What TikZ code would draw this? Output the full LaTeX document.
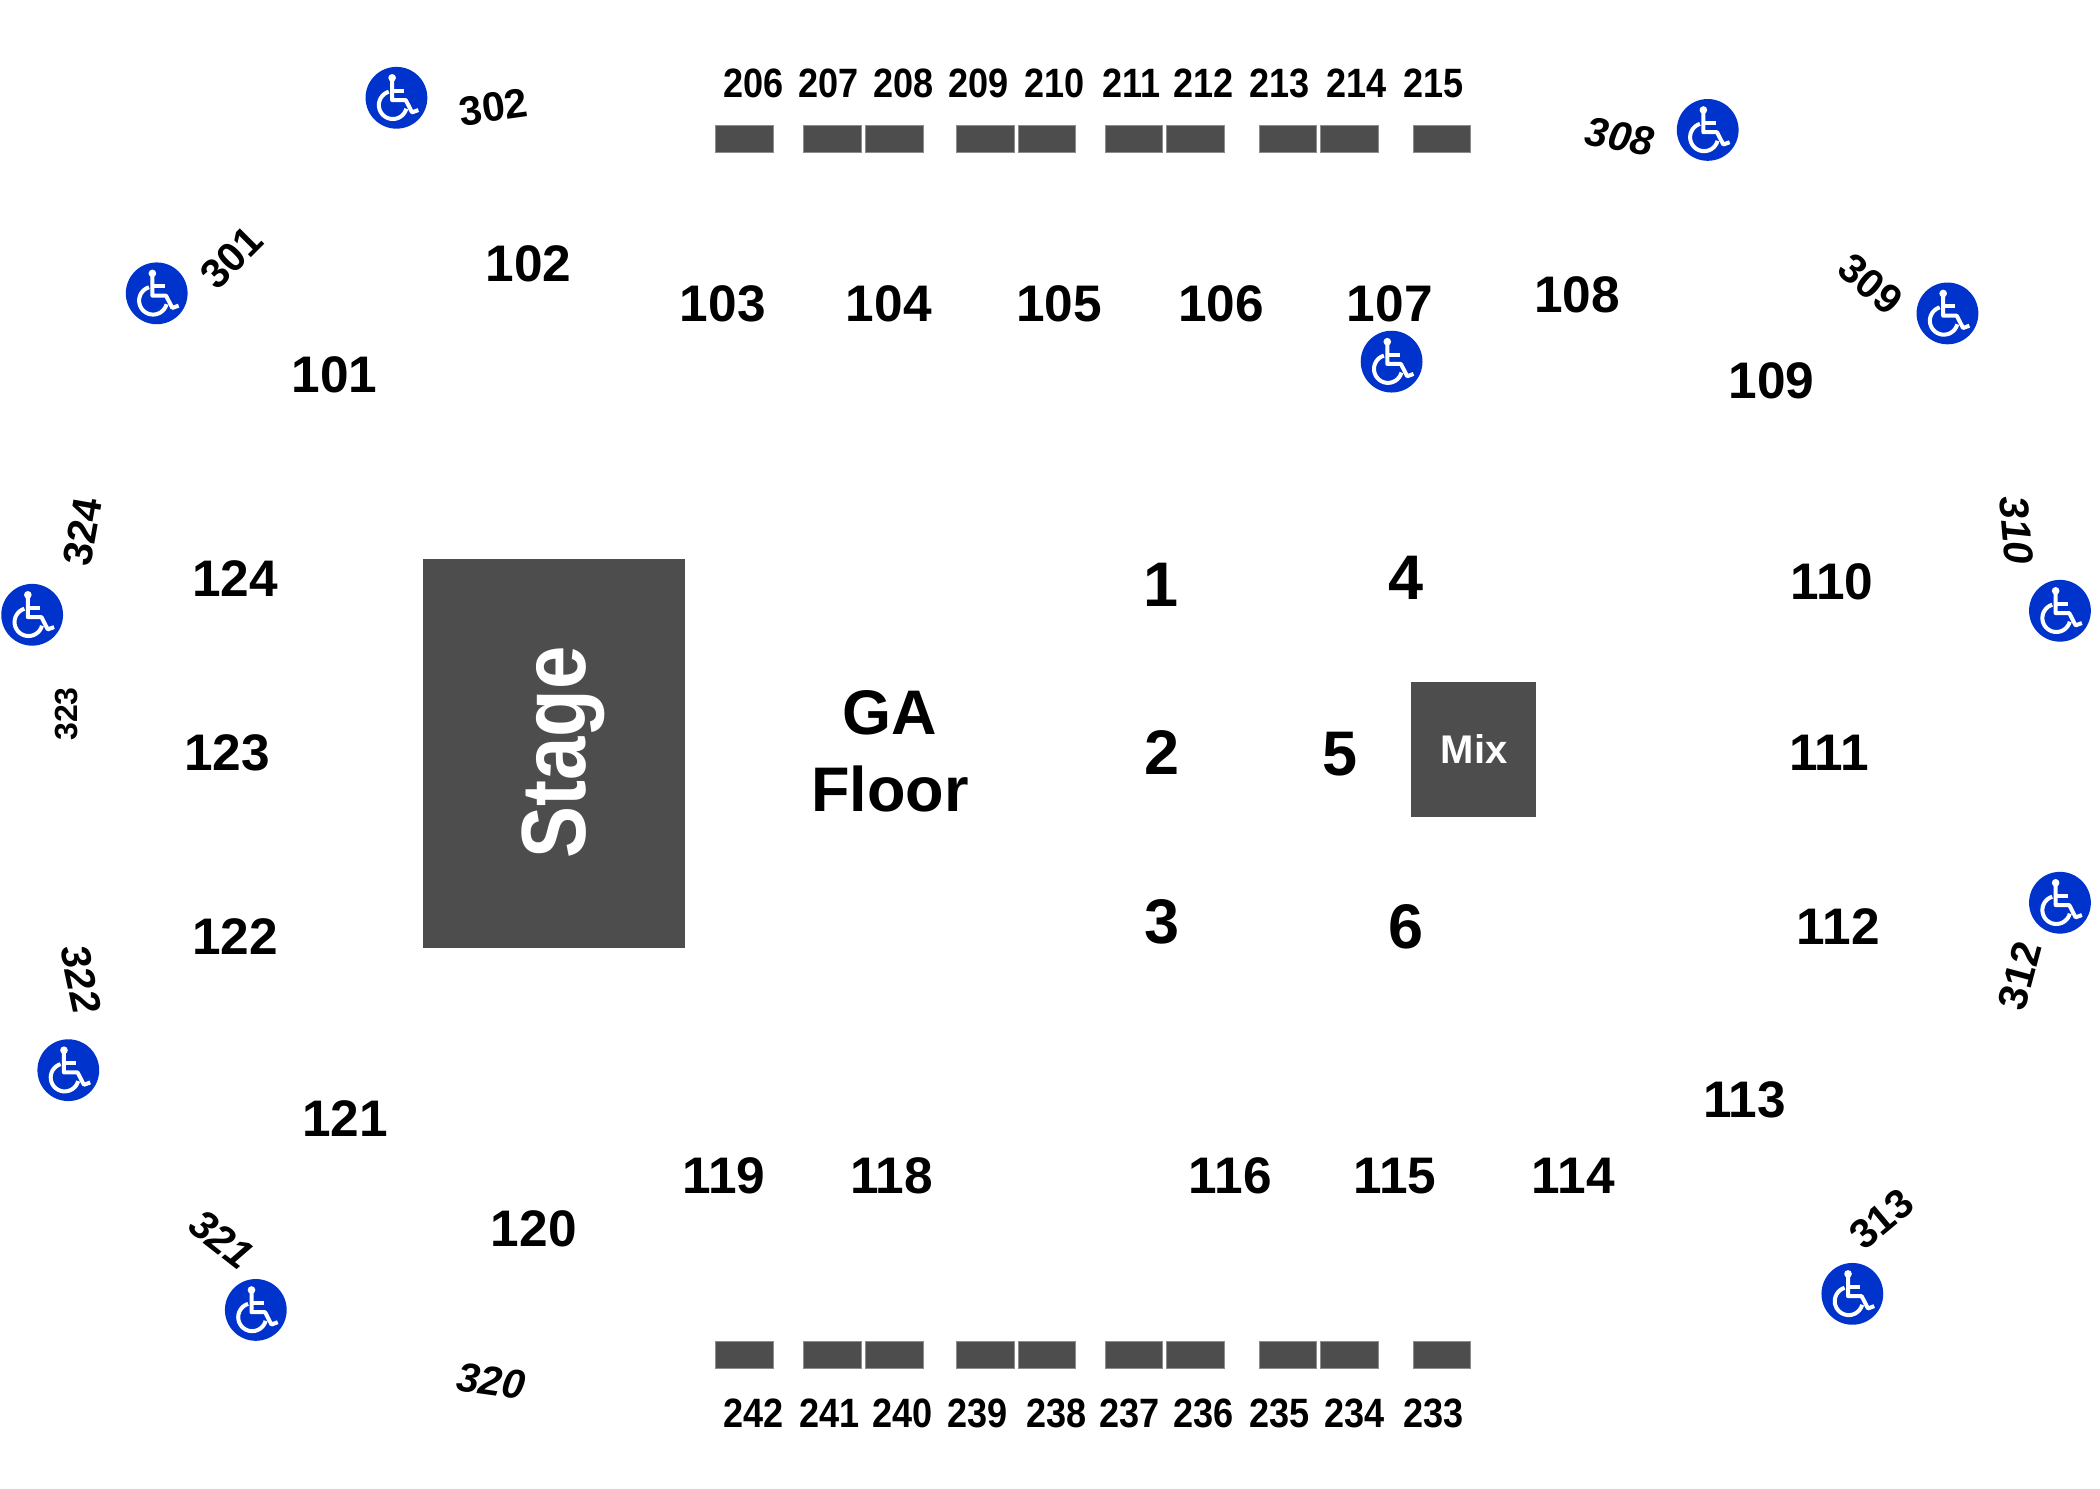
\documentclass[tikz,border=0pt]{standalone}
\usepackage{fontspec}
\setmainfont{Liberation Sans}
\definecolor{stagegray}{HTML}{4D4D4D}
\definecolor{barline}{HTML}{8C8C8C}
\definecolor{wcblue}{HTML}{0033CC}
\tikzset{
  x=0.6697pt, y=-0.6697pt,
  lab/.style={inner sep=0pt, text depth=0pt, align=center, text=black, xshift=0.4pt},
  sec/.style={lab, font=\fontsize{25.7}{28}\selectfont\bfseries},
  row/.style={lab, font=\fontsize{20.5}{22}\selectfont\bfseries},
  outer/.style={lab, font=\fontsize{20.5}{22}\selectfont\bfseries},
  outeri/.style={lab, font=\fontsize{20.5}{22}\selectfont\bfseries\itshape},
  big/.style={lab, font=\fontsize{31.5}{34}\selectfont\bfseries},
  bar/.style={fill=stagegray, draw=barline, line width=0.3pt},
  wheel/.pic={
    \fill[wcblue] (0,0) circle (93);
    \draw[white, line width=2pt, line join=round] (-13,-55) -- (-13,7) -- (28,7) -- (47,44) -- (66,37);
    \draw[white, line width=2pt] (-13,-21) -- (24,-21);
    \fill[white] (-13,-60) circle (11.5);
    \draw[white, line width=2pt] plot[smooth, domain=15:253, samples=24] ({-11+42*cos(\x)},{22+42*sin(\x)});
  }
}
\newcommand{\cond}[2]{\scalebox{#1}[1]{#2}}
\begin{document}
\begin{tikzpicture}
\useasboundingbox (0,0) rectangle (1567.9,1111);
\fill[white] (0,0) rectangle (1567.9,1111);
% stage and mix
\fill[stagegray] (316,417) rectangle (511.5,707.5);
\fill[stagegray] (1053.5,509) rectangle (1147,610);
\node[lab, text=white, rotate=90, font=\fontsize{45.6}{48}\selectfont\bfseries] (stage) at (413,562) {\cond{.855}{Stage}};
\node[lab, text=white, font=\fontsize{20}{22}\selectfont\bfseries] (mix) at (1100,559) {Mix};
% bars
\foreach \a/\b in {534/577,600/643,646/689,714/757,760/803,825/868,871/914,940/983,986/1029,1055/1098}{
  \filldraw[bar] (\a,93.5) rectangle (\b,113.5);
  \filldraw[bar] (\a,1001.5) rectangle (\b,1021.5);
}
% top row labels
\foreach \t/\p in {206/562,207/618,208/674,209/730,210/787,211/844,212/898,213/955,214/1012,215/1070}
  \node[row] (r\t) at (\p,62) {\cond{.88}{\t}};
\foreach \t/\p in {242/562,241/619,240/673,239/729,238/788,237/843,236/898,235/955,234/1011,233/1070}
  \node[row] (r\t) at (\p,1055) {\cond{.88}{\t}};
% section labels
\foreach \t/\p/\q in {101/249/280,102/394/197,103/539/227,104/663/227,105/790/227,106/911/227,107/1037/227,108/1177/220,109/1322/284,110/1367/434,111/1365/562,112/1372/692,113/1302/821,114/1174/878,115/1041/878,116/918/878,118/665/878,119/540/878,120/398/917,121/257/835,122/175/699,123/169/562,124/175/432}
  \node[sec] (s\t) at (\p,\q) {\t};
% floor
\node[big] (f1) at (866.5,437) {1};
\node[big] (f2) at (867,562) {2};
\node[big] (f3) at (867,688) {3};
\node[big] (f4) at (1049,431.5) {4};
\node[big] (f5) at (1000,563) {5};
\node[big] (f6) at (1049,692) {6};
\node[big] (ga) at (664,532) {GA};
\node[big] (fl) at (664,589) {Floor};
% outer labels
\node[outer, rotate=8] (o302) at (368,80) {302};
\node[outer, rotate=45] (o301) at (172,192) {301};
\node[outeri, rotate=-10] (o308) at (1209,102) {308};
\node[outer, rotate=-40] (o309) at (1396,212) {309};
\node[outeri, rotate=-85] (o310) at (1505,396) {310};
\node[outer, rotate=75] (o312) at (1507,728.5) {312};
\node[outer, rotate=40] (o313) at (1404,910) {313};
\node[outeri, rotate=-8] (o320) at (366,1031) {320};
\node[outeri, rotate=-38] (o321) at (165,925) {321};
\node[outeri, rotate=-78] (o322) at (60,731) {322};
\node[lab, rotate=90, font=\fontsize{16}{18}\selectfont\bfseries] (o323) at (49,533) {323};
\node[outer, rotate=80] (o324) at (61,397) {324};
% wheelchair icons
\foreach \n/\p/\q in {a/296/73,b/117/219,c/24/459,d/51/799,e/191/978,f/1275/97,g/1454/234,h/1039/270,i/1538/456,j/1538/674,k/1383/966}
  \pic[scale=0.248] (w\n) at (\p,\q) {wheel};
\end{tikzpicture}
\end{document}
